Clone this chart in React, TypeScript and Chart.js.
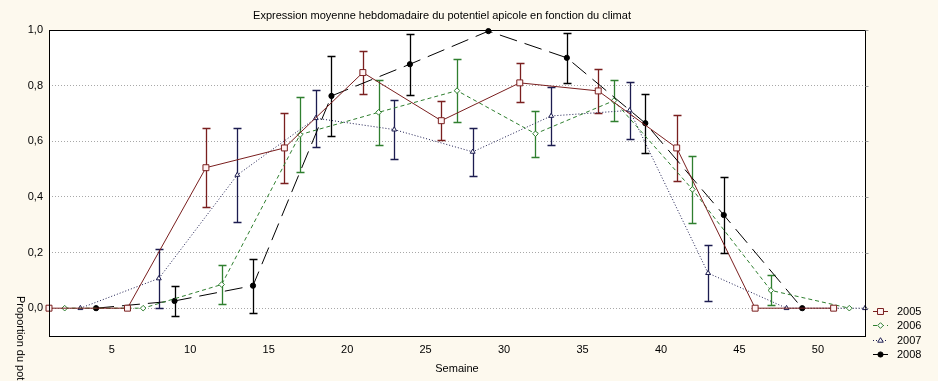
import React, { useEffect, useRef } from 'react';
import { Chart, registerables } from 'chart.js';

Chart.register(...registerables);

// ---- Data ----
const weeks2005 = [1, 6, 11, 16, 21, 26, 31, 36, 41, 46, 51];
const values2005 = [0, 0, 0.505, 0.576, 0.847, 0.674, 0.81, 0.781, 0.576, 0, 0];
const errors2005 = [0, 0, 0.143, 0.125, 0.078, 0.07, 0.07, 0.08, 0.12, 0, 0];

const weeks2006 = [2, 7, 12, 17, 22, 27, 32, 37, 42, 47, 52];
const values2006 = [0, 0, 0.085, 0.624, 0.704, 0.782, 0.627, 0.746, 0.427, 0.064, 0];
const errors2006 = [0, 0, 0.07, 0.135, 0.117, 0.112, 0.083, 0.073, 0.12, 0.054, 0];

const weeks2007 = [3, 8, 13, 18, 23, 28, 33, 38, 43, 48, 53];
const values2007 = [0, 0.107, 0.479, 0.683, 0.642, 0.562, 0.691, 0.711, 0.126, 0, 0];
const errors2007 = [0, 0.107, 0.17, 0.103, 0.106, 0.087, 0.103, 0.103, 0.1, 0, 0];

const weeks2008 = [4, 9, 14, 19, 24, 29, 34, 39, 44, 49];
const values2008 = [0, 0.026, 0.081, 0.763, 0.877, 0.996, 0.9, 0.665, 0.335, 0];
const errors2008 = [0, 0.055, 0.097, 0.145, 0.11, 0, 0.09, 0.106, 0.137, 0];

const seriesLabels = ['2005', '2006', '2007', '2008'];
const xTicks = [5, 10, 15, 20, 25, 30, 35, 40, 45, 50];
const yTicks = [0, 0.2, 0.4, 0.6, 0.8, 1.0];

const titleText = 'Expression moyenne hebdomadaire du potentiel apicole en fonction du climat';
const xTitleText = 'Semaine';
const yTitleText = 'Proportion du potentiel apicole';

const FONT = '"Liberation Sans", Arial, sans-serif';
const BG = '#FDF9EE';

type Style = {
  color: string;
  dash: number[];
  point: string;
  radius: number;
  fill: string;
};

const styles: Style[] = [
  { color: '#7A1F1F', dash: [], point: 'rect', radius: 4.2, fill: '#FFF3F3' },
  { color: '#2F7F2F', dash: [4, 3], point: 'rectRot', radius: 2.8, fill: '#FFFFFF' },
  { color: '#1C1C50', dash: [1, 2], point: 'triangle', radius: 2.8, fill: '#FFFFFF' },
  { color: '#000000', dash: [18, 8], point: 'circle', radius: 2.6, fill: '#000000' },
];

const allWeeks = [weeks2005, weeks2006, weeks2007, weeks2008];
const allValues = [values2005, values2006, values2007, values2008];
const allErrors = [errors2005, errors2006, errors2007, errors2008];

const fmt = (v: number) => v.toFixed(1).replace('.', ',');

function drawMarker(ctx: CanvasRenderingContext2D, kind: string, x: number, y: number, r: number, stroke: string, fill: string) {
  ctx.save();
  ctx.setLineDash([]);
  ctx.strokeStyle = stroke;
  ctx.fillStyle = fill;
  ctx.lineWidth = 1;
  ctx.beginPath();
  if (kind === 'rect') {
    const s = Math.SQRT1_2 * r;
    ctx.rect(x - s, y - s, 2 * s, 2 * s);
  } else if (kind === 'rectRot') {
    ctx.moveTo(x, y - r);
    ctx.lineTo(x + r, y);
    ctx.lineTo(x, y + r);
    ctx.lineTo(x - r, y);
    ctx.closePath();
  } else if (kind === 'triangle') {
    ctx.moveTo(x, y - r);
    ctx.lineTo(x + r, y + r * 0.6);
    ctx.lineTo(x - r, y + r * 0.6);
    ctx.closePath();
  } else {
    ctx.arc(x, y, r, 0, Math.PI * 2);
  }
  ctx.fill();
  ctx.stroke();
  ctx.restore();
}

const backgroundPlugin = {
  id: 'plotBackground',
  beforeDraw(chart: any) {
    const { ctx, chartArea } = chart;
    ctx.save();
    ctx.fillStyle = BG;
    ctx.fillRect(0, 0, chart.width, chart.height);
    ctx.fillStyle = '#FFFFFF';
    ctx.fillRect(chartArea.left, chartArea.top, chartArea.right - chartArea.left, chartArea.bottom - chartArea.top);
    ctx.restore();
  },
};

const errorBarPlugin = {
  id: 'errorBars',
  beforeDatasetsDraw(chart: any) {
    const { ctx, chartArea, scales } = chart;
    const xs = scales.x;
    const ys = scales.y;
    ctx.save();
    ctx.beginPath();
    ctx.rect(chartArea.left, chartArea.top - 1, chartArea.right - chartArea.left, chartArea.bottom - chartArea.top + 2);
    ctx.clip();
    chart.data.datasets.forEach((ds: any) => {
      const errs: number[] = ds.errors || [];
      ctx.strokeStyle = ds.borderColor;
      ctx.lineWidth = 1.3;
      ctx.setLineDash([]);
      ds.data.forEach((p: any, i: number) => {
        const e = errs[i];
        if (!e) return;
        const px = Math.round(xs.getPixelForValue(p.x)) + 0.5;
        const top = Math.round(ys.getPixelForValue(p.y + e)) + 0.5;
        const bot = Math.round(ys.getPixelForValue(p.y - e)) + 0.5;
        ctx.beginPath();
        ctx.moveTo(px, top);
        ctx.lineTo(px, bot);
        ctx.moveTo(px - 4, top);
        ctx.lineTo(px + 4, top);
        ctx.moveTo(px - 4, bot);
        ctx.lineTo(px + 4, bot);
        ctx.stroke();
      });
    });
    ctx.restore();
  },
};

const framePlugin = {
  id: 'frameLegend',
  afterDraw(chart: any) {
    const { ctx, chartArea, scales } = chart;
    const ys = scales.y;
    ctx.save();
    ctx.setLineDash([]);
    ctx.strokeStyle = '#000000';
    ctx.lineWidth = 1;
    const l = Math.round(chartArea.left) + 0.5;
    const r = Math.round(chartArea.right) + 0.5;
    const t = Math.round(chartArea.top) + 0.5;
    const b = Math.round(chartArea.bottom) + 0.5;
    ctx.strokeRect(l, t, r - l, b - t);
    // small outer ticks on right frame
    ctx.strokeStyle = '#9A9A9A';
    yTicks.forEach((v) => {
      const py = Math.round(ys.getPixelForValue(v)) + 0.5;
      ctx.beginPath();
      ctx.moveTo(r, py);
      ctx.lineTo(r + 3, py);
      ctx.stroke();
    });

    // legend
    const rowsY = [-25, -11, 4, 18];
    chart.data.datasets.forEach((ds: any, i: number) => {
      const st = styles[i];
      const y = Math.round(chartArea.bottom + rowsY[i]) + 0.5;
      const x0 = chartArea.right + 8;
      const x1 = chartArea.right + 23;
      ctx.save();
      ctx.strokeStyle = st.color;
      ctx.lineWidth = 1;
      ctx.setLineDash(i === 3 ? [] : st.dash);
      ctx.beginPath();
      ctx.moveTo(x0, y);
      ctx.lineTo(x1, y);
      ctx.stroke();
      ctx.restore();
      drawMarker(ctx, st.point, (x0 + x1) / 2, y, st.radius, st.color, st.fill);
      ctx.fillStyle = '#000000';
      ctx.font = `11px ${FONT}`;
      ctx.textBaseline = 'middle';
      ctx.textAlign = 'left';
      ctx.fillText(ds.label, chartArea.right + 32, y);
    });
    ctx.restore();
  },
};

export default function App() {
  const canvasRef = useRef<HTMLCanvasElement | null>(null);

  useEffect(() => {
    const canvas = canvasRef.current;
    if (!canvas) return;
    const datasets = seriesLabels.map((label, i) => {
      const st = styles[i];
      return {
        label,
        data: allWeeks[i].map((w, j) => ({ x: w, y: allValues[i][j] })),
        errors: allErrors[i],
        borderColor: st.color,
        backgroundColor: st.fill,
        borderWidth: 1,
        borderDash: st.dash,
        pointStyle: st.point,
        pointRadius: st.radius,
        pointBorderWidth: 1,
        pointBorderColor: st.color,
        pointBackgroundColor: st.fill,
        tension: 0,
        fill: false,
        clip: 4,
      };
    });

    const chart = new Chart(canvas, {
      type: 'line',
      data: { datasets } as any,
      options: {
        animation: false,
        responsive: false,
        devicePixelRatio: 1,
        layout: { padding: { top: 30, right: 73, left: 0, bottom: 0 } },
        plugins: {
          legend: { display: false },
          title: { display: false },
          tooltip: { enabled: false },
        },
        scales: {
          x: {
            type: 'linear',
            min: 1,
            max: 53,
            afterFit: (s: any) => {
              s.height = 45;
            },
            afterBuildTicks: (s: any) => {
              s.ticks = xTicks.map((v) => ({ value: v }));
            },
            grid: { display: false, drawTicks: false },
            border: { display: false },
            ticks: {
              padding: 7,
              color: '#000000',
              font: { family: FONT, size: 11 },
              maxRotation: 0,
              callback: (v: any) => String(v),
            },
          },
          y: {
            type: 'linear',
            min: -0.1,
            max: 1.0,
            afterFit: (s: any) => {
              s.width = 49;
            },
            afterBuildTicks: (s: any) => {
              s.ticks = yTicks.map((v) => ({ value: v }));
            },
            grid: { color: '#A8A8A8', lineWidth: 1, drawTicks: false },
            border: { display: false, dash: [1, 2] },
            ticks: {
              padding: 6,
              color: '#000000',
              font: { family: FONT, size: 11 },
              callback: (v: any) => fmt(Number(v)),
            },
          },
        },
      } as any,
      plugins: [backgroundPlugin, errorBarPlugin, framePlugin],
    });
    return () => chart.destroy();
  }, []);

  return (
    <div
      style={{
        position: 'absolute',
        left: 0,
        top: 0,
        width: 938,
        height: 381,
        overflow: 'hidden',
        background: BG,
        fontFamily: FONT,
      }}
    >
      <canvas ref={canvasRef} width={938} height={381} style={{ position: 'absolute', left: 0, top: 0 }} />
      <div
        style={{
          position: 'absolute',
          left: 0,
          top: 9,
          width: 884,
          textAlign: 'center',
          fontSize: 11,
          lineHeight: '13px',
          color: '#000',
          whiteSpace: 'nowrap',
        }}
      >
        {titleText}
      </div>
      <div
        style={{
          position: 'absolute',
          left: 49,
          top: 362,
          width: 816,
          textAlign: 'center',
          fontSize: 11,
          lineHeight: '13px',
          color: '#000',
        }}
      >
        {xTitleText}
      </div>
      <div
        style={{
          position: 'absolute',
          left: 27,
          top: 296,
          transformOrigin: '0 0',
          transform: 'rotate(90deg)',
          fontSize: 11,
          lineHeight: '13px',
          color: '#000',
          whiteSpace: 'nowrap',
        }}
      >
        {yTitleText}
      </div>
    </div>
  );
}
